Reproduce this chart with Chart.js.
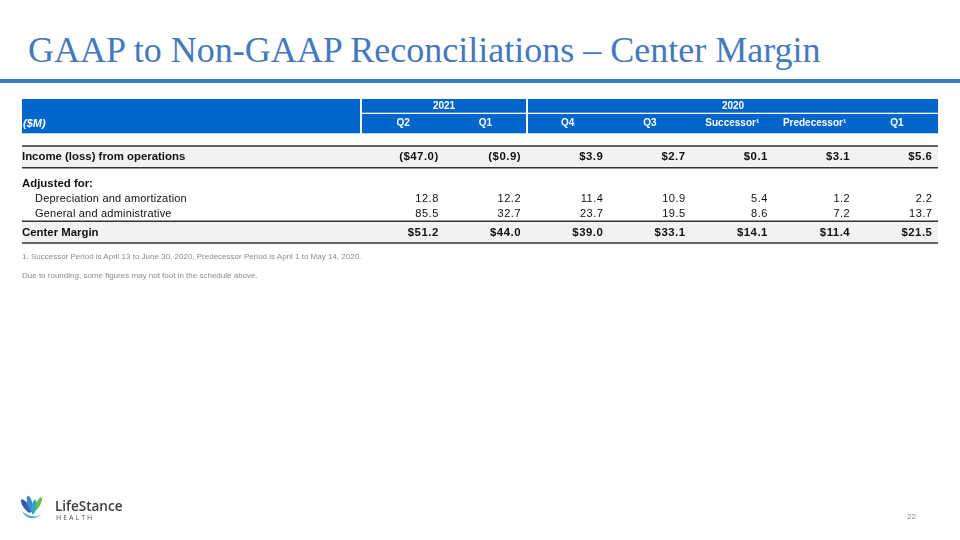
<!DOCTYPE html>
<html>
<head>
<meta charset="utf-8">
<script src="https://cdn.jsdelivr.net/npm/chart.js@4.4.1/dist/chart.umd.min.js"></script>
<style>
  body { margin: 0; width: 960px; height: 540px; position: relative; overflow: hidden; background: #fff; font-family: "Liberation Sans", Arial, sans-serif; }
  #title { position: absolute; left: 28px; top: 32px; margin: 0; font: 36px/36px "Liberation Serif", "Times New Roman", serif; color: #4479bd; font-weight: normal; white-space: nowrap; }
  #rule { position: absolute; left: 0; top: 79px; width: 960px; height: 4px; background: #3d7cc0; }
  #box { position: absolute; left: 0; top: 0; width: 960px; height: 540px; }
  .note { position: absolute; left: 22px; font-size: 8px; color: #8c8c8c; white-space: nowrap; }
  #logo { position: absolute; left: 20px; top: 495px; }
  #brand { position: absolute; left: 55px; top: 497px; font: 600 13.5px "Open Sans", sans-serif; color: #3b3b3b; }
  #health { position: absolute; left: 56px; top: 513px; font: 7px "Open Sans", sans-serif; letter-spacing: 2px; color: #555; }
  #page { position: absolute; left: 907px; top: 512px; font-size: 8px; color: #888; }
</style>
</head>
<body>
<h1 id="title">GAAP to Non-GAAP Reconciliations – Center Margin</h1>
<div id="rule"></div>
<div id="box"><canvas id="myChart" width="960" height="540"></canvas></div>
<div class="note" style="top:252px">1. Successor Period is April 13 to June 30, 2020, Predecessor Period is April 1 to May 14, 2020.</div>
<div class="note" style="top:271px">Due to rounding, some figures may not foot in the schedule above.</div>
<svg id="logo" width="24" height="26" viewBox="0 0 24 26">
  <ellipse cx="6" cy="11" rx="2.8" ry="8" fill="#2e5fa8" transform="rotate(-35 6 11)"/>
  <ellipse cx="10" cy="9" rx="2.6" ry="8.5" fill="#3f86cc" transform="rotate(-14 10 9)"/>
  <ellipse cx="18" cy="9" rx="2.4" ry="7.5" fill="#6cc04a" transform="rotate(28 18 9)"/>
  <ellipse cx="14" cy="12" rx="2.2" ry="7.5" fill="#2ba8c8" transform="rotate(8 14 12)"/>
  <path d="M2 16 C7 25, 15 25, 22 19 C16 23, 8 22, 2 16 Z" fill="#47a6de"/>
</svg>
<div id="brand">LifeStance</div>
<div id="health">HEALTH</div>
<div id="page">22</div>
<script>
const groupLabels = ["2021", "2020"];
const groupSizes = [2, 5];
const colLabels = ["Q2", "Q1", "Q4", "Q3", "Successor¹", "Predecessor¹", "Q1"];
const rowLabels = [
  "Income (loss) from operations",
  "Adjusted for:",
  "Depreciation and amortization",
  "General and administrative",
  "Center Margin"
];
const incomeFromOps = [-47.0, -0.9, 3.9, 2.7, 0.1, 3.1, 5.6];
const depAmort = [12.8, 12.2, 11.4, 10.9, 5.4, 1.2, 2.2];
const genAdmin = [85.5, 32.7, 23.7, 19.5, 8.6, 7.2, 13.7];
const centerMargin = [51.2, 44.0, 39.0, 33.1, 14.1, 11.4, 21.5];

const rowValues = [incomeFromOps, null, depAmort, genAdmin, centerMargin];
// styling per row
const rowStyle = [
  { bold: true, money: true, band: true, nudge: -0.3 },
  { bold: true, nudge: 7.5 },
  { indent: 13, nudge: 4.4 },
  { indent: 13, nudge: 0.5 },
  { bold: true, money: true, band: true, nudge: 0 }
];

const fmt = (v, money) => {
  if (!money) return v.toFixed(1);
  return v < 0 ? "($" + Math.abs(v).toFixed(1) + ")" : "$" + v.toFixed(1);
};

const tablePlugin = {
  id: "tableCells",
  afterDraw(chart) {
    const c = chart.ctx, a = chart.chartArea;
    const xs = chart.scales.x, ys = chart.scales.y;
    const step = xs.getPixelForValue(1) - xs.getPixelForValue(0);
    const tLeft = 22, tRight = a.right;
    const blue = "#0066cc";
    c.save();

    // header block
    const h1Top = a.top - 58, h1Bot = a.top - 44.3, h2Top = a.top - 43, h2Bot = a.top - 23.7;
    c.fillStyle = blue;
    c.fillRect(tLeft, h1Top, a.left - 2 - tLeft, h2Bot - h1Top);
    c.font = "bold 10px 'Liberation Sans', Arial, sans-serif";
    c.textAlign = "center";
    c.textBaseline = "middle";
    let start = 0;
    groupLabels.forEach((g, gi) => {
      const end = start + groupSizes[gi] - 1;
      const x0 = gi === 0 ? a.left : Math.round(xs.getPixelForValue(start) - step / 2 + 1);
      const x1 = gi === groupLabels.length - 1 ? a.right : Math.round(xs.getPixelForValue(end) + step / 2 - 1);
      c.fillStyle = blue;
      c.fillRect(x0, h1Top, x1 - x0, h1Bot - h1Top);
      c.fillRect(x0, h2Top, x1 - x0, h2Bot - h2Top);
      c.fillStyle = "#fff";
      c.fillText(g, (x0 + x1) / 2, (h1Top + h1Bot) / 2 + 0.5);
      for (let i = start; i <= end; i++) {
        c.fillText(colLabels[i], xs.getPixelForValue(i), (h2Top + h2Bot) / 2);
      }
      start = end + 1;
    });
    c.textAlign = "left";
    c.font = "italic bold 11px 'Liberation Sans', Arial, sans-serif";
    c.fillText("($M)", tLeft + 1, (h2Top + h2Bot) / 2);

    // body rows
    rowLabels.forEach((lab, r) => {
      const st = rowStyle[r];
      const y = ys.getPixelForValue(r) + st.nudge;
      if (st.band) {
        c.fillStyle = "#f2f2f2";
        c.fillRect(tLeft, y - 10.5, tRight - tLeft, 21.5);
        c.strokeStyle = "#333";
        c.lineWidth = 1.6;
        c.beginPath();
        c.moveTo(tLeft, y - 10.7); c.lineTo(tRight, y - 10.7);
        c.moveTo(tLeft, y + 11); c.lineTo(tRight, y + 11);
        c.stroke();
      }
      c.fillStyle = "#111";
      c.textBaseline = "middle";
      c.textAlign = "left";
      c.font = (st.bold ? "bold 11.4px" : "11px") + " 'Liberation Sans', Arial, sans-serif";
      c.letterSpacing = st.bold ? "0px" : "0.2px";
      c.fillText(lab, tLeft + (st.indent || 0), y + 0.5);
      const vals = rowValues[r];
      if (vals) {
        c.textAlign = "right";
        c.letterSpacing = "0.5px";
        vals.forEach((v, i) => {
          c.fillText(fmt(v, st.money), xs.getPixelForValue(i) + 35.6, y + 0.5);
        });
      }
      c.letterSpacing = "0px";
    });
    c.restore();
  }
};

const ctx = document.getElementById("myChart");
new Chart(ctx, {
  type: "scatter",
  data: { datasets: [] },
  options: {
    responsive: false,
    animation: false,
    events: [],
    layout: { padding: { left: 362, right: 22, top: 157, bottom: 308 } },
    scales: {
      x: { type: "category", labels: colLabels, offset: true, display: false },
      y: { type: "category", labels: rowLabels, offset: false, display: false }
    },
    plugins: { legend: { display: false }, tooltip: { enabled: false } }
  },
  plugins: [tablePlugin]
});
</script>
</body>
</html>
